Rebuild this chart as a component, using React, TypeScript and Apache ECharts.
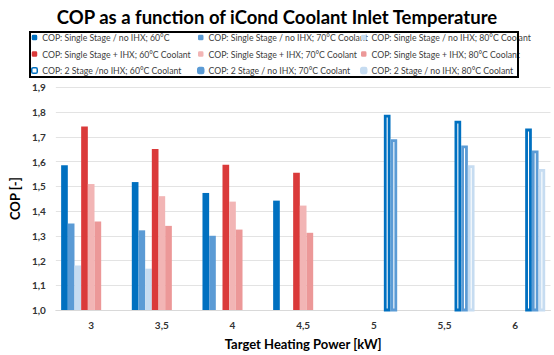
import React, { useEffect, useRef } from "react";
import * as echarts from "echarts";

const categories = ["3", "3,5", "4", "4,5", "5", "5,5", "6"];
const ssNoIhx60 = [1.585, 1.517, 1.473, 1.442, null, null, null];
const ssNoIhx70 = [1.35, 1.322, 1.3, null, null, null, null];
const ssNoIhx80 = [1.18, 1.167, null, null, null, null, null];
const ssIhx60 = [1.742, 1.651, 1.587, 1.555, null, null, null];
const ssIhx70 = [1.509, 1.46, 1.438, 1.422, null, null, null];
const ssIhx80 = [1.358, 1.34, 1.325, 1.312, null, null, null];
const twoStage60 = [null, null, null, null, 1.789, 1.765, 1.733];
const twoStage70 = [null, null, null, null, 1.69, 1.665, 1.645];
const twoStage80 = [null, null, null, null, null, 1.585, 1.57];

const names = [
  "COP: Single Stage / no IHX; 60°C",
  "COP: Single Stage / no IHX; 70°C Coolant",
  "COP: Single Stage / no IHX; 80°C Coolant",
  "COP: Single Stage + IHX; 60°C Coolant",
  "COP: Single Stage + IHX; 70°C Coolant",
  "COP: Single Stage + IHX; 80°C Coolant",
  "COP: 2 Stage /no IHX; 60°C Coolant",
  "COP: 2 Stage / no IHX; 70°C Coolant",
  "COP: 2 Stage / no IHX; 80°C Coolant",
];

const FONT = "Lato";
const C = {
  b60: "#0070c0",
  b70: "#5b9bd5",
  b80: "#c6dcf1",
  r60: "#da3a3a",
  r70: "#f2b5b5",
  r80: "#ec9898",
};

export default function App() {
  const ref = useRef<HTMLDivElement>(null);
  useEffect(() => {
    const chart = echarts.init(ref.current!, null, { renderer: "svg" });
    const filled = (name: string, data: any[], color: string) => ({
      name,
      type: "bar",
      data,
      barGap: "0%",
      barCategoryGap: "15%",
      itemStyle: { color },
    });
    const hollow = (name: string, data: any[], color: string) => ({
      name,
      type: "bar",
      data,
      barGap: "0%",
      barCategoryGap: "15%",
      itemStyle: { color: "#ffffff", borderColor: color, borderWidth: 2.8 },
    });
    const legendBase = {
      orient: "vertical",
      top: 32.5,
      padding: 0,
      itemWidth: 5.5,
      itemHeight: 5.5,
      itemGap: 6.5,
      selectedMode: false,
      textStyle: { fontFamily: FONT, fontSize: 8.7, color: "#404040", lineHeight: 10 },
    };
    chart.setOption({
      animation: false,
      backgroundColor: "#ffffff",
      title: {
        text: "COP as a function of iCond Coolant Inlet Temperature",
        left: "center",
        top: 2,
        textStyle: { fontFamily: FONT, fontSize: 18.5, fontWeight: "bold", color: "#000" },
      },
      legend: [
        {
          ...legendBase,
          left: 31,
          data: [
            { name: names[0], itemStyle: { color: C.b60 } },
            { name: names[3], itemStyle: { color: C.r60 } },
            { name: names[6], itemStyle: { color: "#fff", borderColor: C.b60, borderWidth: 1.5 } },
          ],
        },
        {
          ...legendBase,
          left: 197,
          data: [
            { name: names[1], itemStyle: { color: C.b70 } },
            { name: names[4], itemStyle: { color: C.r70 } },
            { name: names[7], itemStyle: { color: C.b70 } },
          ],
        },
        {
          ...legendBase,
          left: 360,
          data: [
            { name: names[2], itemStyle: { color: C.b80 } },
            { name: names[5], itemStyle: { color: C.r80 } },
            { name: names[8], itemStyle: { color: C.b80 } },
          ],
        },
      ],
      graphic: [
        {
          type: "rect",
          shape: { x: 30, y: 32, width: 488, height: 45 },
          style: { fill: "none", stroke: "#000", lineWidth: 2 },
          z: 100,
        },
      ],
      grid: { left: 46.5, right: 3.5, top: 87.3, bottom: 42.7 },
      xAxis: {
        type: "category",
        data: categories,
        axisLine: { show: true, lineStyle: { color: "#d9d9d9" } },
        axisTick: { show: false },
        axisLabel: { fontFamily: FONT, fontSize: 10, fontWeight: "bold", color: "#333", margin: 10 },
        name: "Target Heating Power [kW]",
        nameLocation: "middle",
        nameGap: 27,
        nameTextStyle: { fontFamily: FONT, fontSize: 13, fontWeight: "bold", color: "#000" },
      },
      yAxis: {
        type: "value",
        min: 1,
        max: 1.9,
        interval: 0.1,
        axisLine: { show: false },
        axisTick: { show: false },
        splitLine: { lineStyle: { color: "#e3e3e3" } },
        axisLabel: {
          fontFamily: FONT,
          fontSize: 10,
          fontWeight: "bold",
          color: "#333",
          margin: 10,
          formatter: (v: number) => v.toFixed(1).replace(".", ","),
        },
        name: "COP [-]",
        nameLocation: "middle",
        nameGap: 26,
        nameTextStyle: { fontFamily: FONT, fontSize: 13, fontWeight: "bold", color: "#000" },
      },
      series: [
        filled(names[0], ssNoIhx60, C.b60),
        filled(names[1], ssNoIhx70, C.b70),
        filled(names[2], ssNoIhx80, C.b80),
        filled(names[3], ssIhx60, C.r60),
        filled(names[4], ssIhx70, C.r70),
        filled(names[5], ssIhx80, C.r80),
        hollow(names[6], twoStage60, C.b60),
        hollow(names[7], twoStage70, C.b70),
        hollow(names[8], twoStage80, C.b80),
      ],
    });
    return () => chart.dispose();
  }, []);
  return (
    <div
      ref={ref}
      style={{ position: "fixed", left: 0, top: 0, width: 554, height: 355 }}
    />
  );
}
